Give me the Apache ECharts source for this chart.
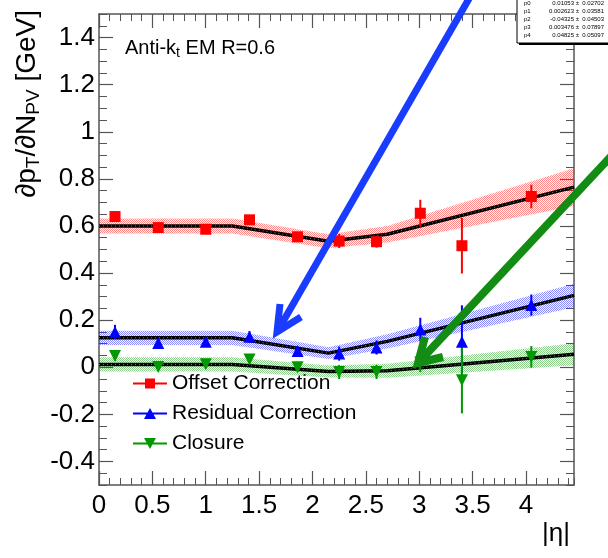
<!DOCTYPE html>
<html>
<head>
<meta charset="utf-8">
<script src="https://cdn.jsdelivr.net/npm/echarts@6/dist/echarts.min.js"></script>
<style>
html,body{margin:0;padding:0;background:#fff;}
#chart{width:608px;height:558px;}
</style>
</head>
<body>
<div id="chart"></div>
<script>
// ---- data ----
const etaX = [0.15, 0.555, 1.0, 1.41, 1.86, 2.25, 2.6, 3.01, 3.4, 4.05];
const offsetY = [0.64, 0.593, 0.586, 0.626, 0.554, 0.536, 0.533, 0.654, 0.516, 0.725];
const offsetErr = [0.02, 0.015, 0.015, 0.02, 0.02, 0.03, 0.025, 0.057, 0.118, 0.05];
const residualY = [0.15, 0.103, 0.108, 0.129, 0.069, 0.058, 0.084, 0.16, 0.108, 0.264];
const residualErr = [0.03, 0.015, 0.015, 0.025, 0.02, 0.03, 0.03, 0.05, 0.155, 0.045];
const closureY = [0.048, 0.001, 0.013, 0.033, 0.0, -0.02, -0.02, 0.02, -0.055, 0.044];
const closureErr = [0.02, 0.015, 0.015, 0.02, 0.02, 0.03, 0.03, 0.04, 0.141, 0.046];

const fitX = [0, 1.25, 2.15, 2.7, 4.45];
const offsetFit = [0.60, 0.60, 0.535, 0.565, 0.765];
const residualFit = [0.125, 0.125, 0.06, 0.11, 0.305];
const closureFit = [0.012, 0.012, -0.018, -0.015, 0.055];
const offsetBand = [0.032, 0.032, 0.03, 0.035, 0.08];
const residualBand = [0.03, 0.03, 0.025, 0.03, 0.05];
const closureBand = [0.03, 0.03, 0.025, 0.03, 0.047];

const xMajorTicks = [0, 0.5, 1, 1.5, 2, 2.5, 3, 3.5, 4];
const yMajorTicks = [-0.4, -0.2, 0, 0.2, 0.4, 0.6, 0.8, 1, 1.2, 1.4];
const statNames = ['p0', 'p1', 'p2', 'p3', 'p4'];
const statValues = ['0.01053 \u00b1  0.02702', '0.002623 \u00b1  0.03581', '-0.04325 \u00b1  0.04503', '0.003476 \u00b1  0.07897', '0.04825 \u00b1  0.05097'];

// ---- helpers ----
const FONT = 'Liberation Sans, Arial, sans-serif';
function pattern(color) {
  const c = document.createElement('canvas');
  c.width = 2; c.height = 2;
  const ctx = c.getContext('2d');
  ctx.fillStyle = color;
  ctx.fillRect(0, 0, 1, 1);
  ctx.fillRect(1, 1, 1, 1);
  return { image: c, repeat: 'repeat' };
}
function isMajor(v, list) { return list.some(t => Math.abs(t - v) < 1e-6); }
function fmt(v) { return String(+v.toFixed(2)); }

function bandSeries(center, half, color) {
  return {
    type: 'custom', z: 1, silent: true, clip: true,
    data: [0],
    renderItem: function (params, api) {
      const pts = [];
      for (let i = 0; i < fitX.length; i++) pts.push(api.coord([fitX[i], center[i] + half[i]]));
      for (let i = fitX.length - 1; i >= 0; i--) pts.push(api.coord([fitX[i], center[i] - half[i]]));
      return { type: 'polygon', shape: { points: pts }, style: { fill: pattern(color), stroke: null } };
    }
  };
}
function fitSeries(vals) {
  return [{
    type: 'line', z: 2, silent: true, symbol: 'none',
    data: fitX.map((x, i) => [x, vals[i]]),
    lineStyle: { color: '#000', width: 3.5 }
  }, {
    type: 'line', z: 2, silent: true, symbol: 'none',
    data: fitX.map((x, i) => [x, vals[i]]),
    lineStyle: { color: 'rgba(170,170,170,0.7)', width: 1, type: [1, 3] }
  }];
}
function errSeries(ys, errs, color) {
  return {
    type: 'custom', z: 3, silent: true,
    data: etaX.map((x, i) => [x, ys[i], errs[i]]),
    encode: { x: 0, y: 1 },
    renderItem: function (params, api) {
      const x = api.value(0), y = api.value(1), e = api.value(2);
      const p1 = api.coord([x, y + e]);
      const p2 = api.coord([x, y - e]);
      return { type: 'line', shape: { x1: p1[0], y1: p1[1], x2: p2[0], y2: p2[1] }, style: { stroke: color, lineWidth: 2 } };
    }
  };
}
function markerSeries(name, ys, color, symbol, rotate, size) {
  return {
    name: name, type: 'scatter', z: 4, symbol: symbol, symbolRotate: rotate, symbolSize: size,
    itemStyle: { color: color, opacity: 1 },
    data: etaX.map((x, i) => [x, ys[i]])
  };
}

const RED = '#ff0000', BLUE = '#0000ff', GREEN = '#009900';
const axisCol = '#555';

function xAx(pos, major, labels) {
  return {
    type: 'value', position: pos, min: 0, max: 4.45,
    interval: major ? 0.5 : 0.1,
    axisLine: { show: !major, onZero: false, lineStyle: { color: axisCol, width: 1.5 } },
    axisTick: major ? { show: true, inside: true, length: 14, customValues: xMajorTicks, lineStyle: { color: axisCol, width: 1.2 } }
                    : { show: true, inside: true, length: 7, lineStyle: { color: axisCol, width: 1 } },
    axisLabel: labels ? { show: true, margin: 8, color: '#000', fontFamily: FONT, fontSize: 26,
      formatter: v => isMajor(v, xMajorTicks) ? fmt(v) : '' } : { show: false },
    splitLine: { show: false }
  };
}
function yAx(pos, major, labels) {
  return {
    type: 'value', position: pos, min: -0.5, max: 1.5,
    interval: major ? 0.1 : 0.05,
    axisLine: { show: !major, onZero: false, lineStyle: { color: axisCol, width: 1.5 } },
    axisTick: major ? { show: true, inside: true, length: 14, customValues: yMajorTicks, lineStyle: { color: axisCol, width: 1.2 } }
                    : { show: true, inside: true, length: 8, lineStyle: { color: axisCol, width: 1 } },
    axisLabel: labels ? { show: true, margin: 4, color: '#000', fontFamily: FONT, fontSize: 26,
      formatter: v => isMajor(v, yMajorTicks) ? fmt(v) : '' } : { show: false },
    splitLine: { show: false }
  };
}

const xAxes = [xAx('bottom', false, true), xAx('bottom', true, false), xAx('top', false, false), xAx('top', true, false)];
xAxes[0].name = '|\u03b7|';
xAxes[0].nameLocation = 'end';
xAxes[0].nameGap = -4;
xAxes[0].nameTextStyle = { fontFamily: FONT, fontSize: 26, color: '#000', align: 'right', verticalAlign: 'top', padding: [36, 0, 0, 0] };

const yAxes = [yAx('left', false, true), yAx('left', true, false), yAx('right', false, false), yAx('right', true, false)];

function legendIcon(kind) {
  const line = 'M0,4.5L34,4.5L34,6.5L0,6.5Z';
  if (kind === 'square') return 'path://' + line + ' M12,0.5L22,0.5L22,10.5L12,10.5Z';
  if (kind === 'up') return 'path://' + line + ' M17,0L23,11L11,11Z';
  return 'path://' + line + ' M11,0L23,0L17,11Z';
}

function arrow(tip, tail, b1, b2, color, w) {
  return [{
    type: 'polyline', z: 100, silent: true,
    shape: { points: [tip, tail] },
    style: { stroke: color, lineWidth: w, fill: null, lineCap: 'butt' }
  }, {
    type: 'polyline', z: 100, silent: true,
    shape: { points: [b1, tip, b2] },
    style: { stroke: color, lineWidth: w, fill: null, lineJoin: 'miter', lineCap: 'butt' }
  }];
}

const statGraphics = [
  { type: 'rect', z: 90, shape: { x: 519, y: -5, width: 100, height: 50 }, style: { fill: '#000' } },
  { type: 'rect', z: 91, shape: { x: 517, y: -7, width: 100, height: 50 }, style: { fill: '#fff', stroke: '#000', lineWidth: 1 } }
];
statNames.forEach((n, i) => {
  statGraphics.push({ type: 'text', z: 92, x: 524, y: 3 + i * 8,
    style: { text: n, fontFamily: FONT, fontSize: 6, fill: '#000', verticalAlign: 'middle', align: 'left' } });
  statGraphics.push({ type: 'text', z: 92, x: 604, y: 3 + i * 8,
    style: { text: statValues[i], fontFamily: FONT, fontSize: 6, fill: '#000', verticalAlign: 'middle', align: 'right' } });
});

const option = {
  animation: false,
  backgroundColor: '#fff',
  grid: { left: 99, right: 34, top: 14, bottom: 73, containLabel: false, outerBoundsMode: 'none' },
  xAxis: xAxes,
  yAxis: yAxes,
  legend: {
    orient: 'vertical', left: 128, top: 368, itemWidth: 34, itemHeight: 11, itemGap: 9,
    textStyle: { fontFamily: FONT, fontSize: 21, color: '#000', lineHeight: 20 },
    selectedMode: false,
    data: [
      { name: 'Offset Correction', icon: legendIcon('square') },
      { name: 'Residual Correction', icon: legendIcon('up') },
      { name: 'Closure', icon: legendIcon('down') }
    ]
  },
  series: [
    bandSeries(offsetFit, offsetBand, 'rgba(255,40,40,0.55)'),
    bandSeries(residualFit, residualBand, 'rgba(40,40,255,0.55)'),
    bandSeries(closureFit, closureBand, 'rgba(0,150,0,0.45)'),
    ...fitSeries(offsetFit),
    ...fitSeries(residualFit),
    ...fitSeries(closureFit),
    errSeries(offsetY, offsetErr, RED),
    errSeries(residualY, residualErr, BLUE),
    errSeries(closureY, closureErr, GREEN),
    markerSeries('Offset Correction', offsetY, RED, 'rect', 0, 11),
    markerSeries('Residual Correction', residualY, BLUE, 'triangle', 0, 12),
    markerSeries('Closure', closureY, GREEN, 'triangle', 180, 12)
  ],
  graphic: [
    { type: 'text', z: 80, x: 27, y: 10, rotation: Math.PI / 2,
      style: { text: '\u2202p{s|T}/\u2202N{s|PV} [GeV]', fontFamily: FONT, fontSize: 28, fill: '#000',
        align: 'right', verticalAlign: 'middle', lineHeight: 32,
        rich: { s: { fontFamily: FONT, fontSize: 19, fill: '#000', lineHeight: 12, verticalAlign: 'bottom' } } } },
    { type: 'text', z: 80, x: 125, y: 48,
      style: { text: 'Anti-k{s|t} EM R=0.6', fontFamily: FONT, fontSize: 20, fill: '#000', verticalAlign: 'middle', lineHeight: 24,
        rich: { s: { fontFamily: FONT, fontSize: 14, fill: '#000', lineHeight: 10, verticalAlign: 'bottom' } } } },
    ...statGraphics,
    ...arrow([277, 332], [474, -10], [280, 304], [301, 317], '#1a3cff', 7),
    ...arrow([418, 363], [615, 152], [425, 337], [443, 357], '#128c12', 8)
  ]
};

const chart = echarts.init(document.getElementById('chart'), null, { renderer: 'canvas' });
chart.setOption(option);
</script>
</body>
</html>
